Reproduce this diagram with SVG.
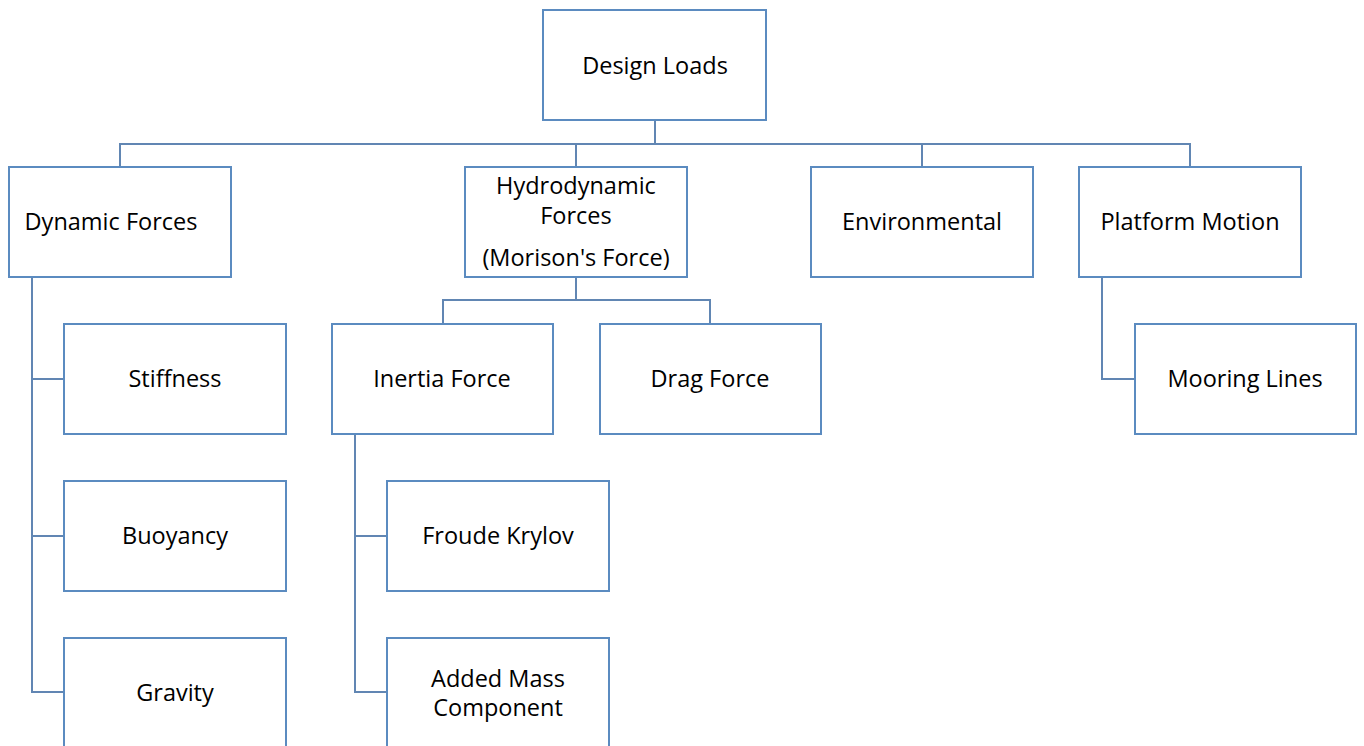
<svg xmlns="http://www.w3.org/2000/svg" width="1364" height="746" viewBox="0 0 1364 746">
<style>
.box{fill:#fff;stroke:#5b8bc0;stroke-width:2}
.c{fill:none;stroke:#6186b3;stroke-width:2}
text{font-family:"Open Sans","Noto Sans",sans-serif;font-size:23.5px;fill:#000;text-anchor:middle;dominant-baseline:central}
</style>
<rect width="1364" height="746" fill="#fff"/>
<g id="connectors">
<path class="c" d="M655 120V144M120 167V144H1190V167M576 144V167M922 144V167"/>
<path class="c" d="M32 277V692H64M32 379H64M32 536H64"/>
<path class="c" d="M576 277V300M443 323V300H710V323"/>
<path class="c" d="M355 434V692H387M355 536H387"/>
<path class="c" d="M1102 277V379H1135"/>
</g>
<g id="design-loads"><rect class="box" x="543" y="10" width="223" height="110"/><text x="655" y="65">Design Loads</text></g>
<g id="dynamic-forces"><rect class="box" x="9" y="167" width="222" height="110"/><text x="111" y="221">Dynamic Forces</text></g>
<g id="hydrodynamic-forces"><rect class="box" x="465" y="167" width="222" height="110"/><text x="576" y="185">Hydrodynamic</text><text x="576" y="215">Forces</text><text x="576" y="257">(Morison's Force)</text></g>
<g id="environmental"><rect class="box" x="811" y="167" width="222" height="110"/><text x="922" y="221">Environmental</text></g>
<g id="platform-motion"><rect class="box" x="1079" y="167" width="222" height="110"/><text x="1190" y="221">Platform Motion</text></g>
<g id="stiffness"><rect class="box" x="64" y="324" width="222" height="110"/><text x="175" y="378">Stiffness</text></g>
<g id="buoyancy"><rect class="box" x="64" y="481" width="222" height="110"/><text x="175" y="535">Buoyancy</text></g>
<g id="gravity"><rect class="box" x="64" y="638" width="222" height="110"/><text x="175" y="692">Gravity</text></g>
<g id="inertia-force"><rect class="box" x="332" y="324" width="221" height="110"/><text x="442" y="378">Inertia Force</text></g>
<g id="drag-force"><rect class="box" x="600" y="324" width="221" height="110"/><text x="710" y="378">Drag Force</text></g>
<g id="froude-krylov"><rect class="box" x="387" y="481" width="222" height="110"/><text x="498" y="535">Froude Krylov</text></g>
<g id="added-mass"><rect class="box" x="387" y="638" width="222" height="110"/><text x="498" y="678">Added Mass</text><text x="498" y="707">Component</text></g>
<g id="mooring-lines"><rect class="box" x="1135" y="324" width="221" height="110"/><text x="1245" y="378">Mooring Lines</text></g>
</svg>
